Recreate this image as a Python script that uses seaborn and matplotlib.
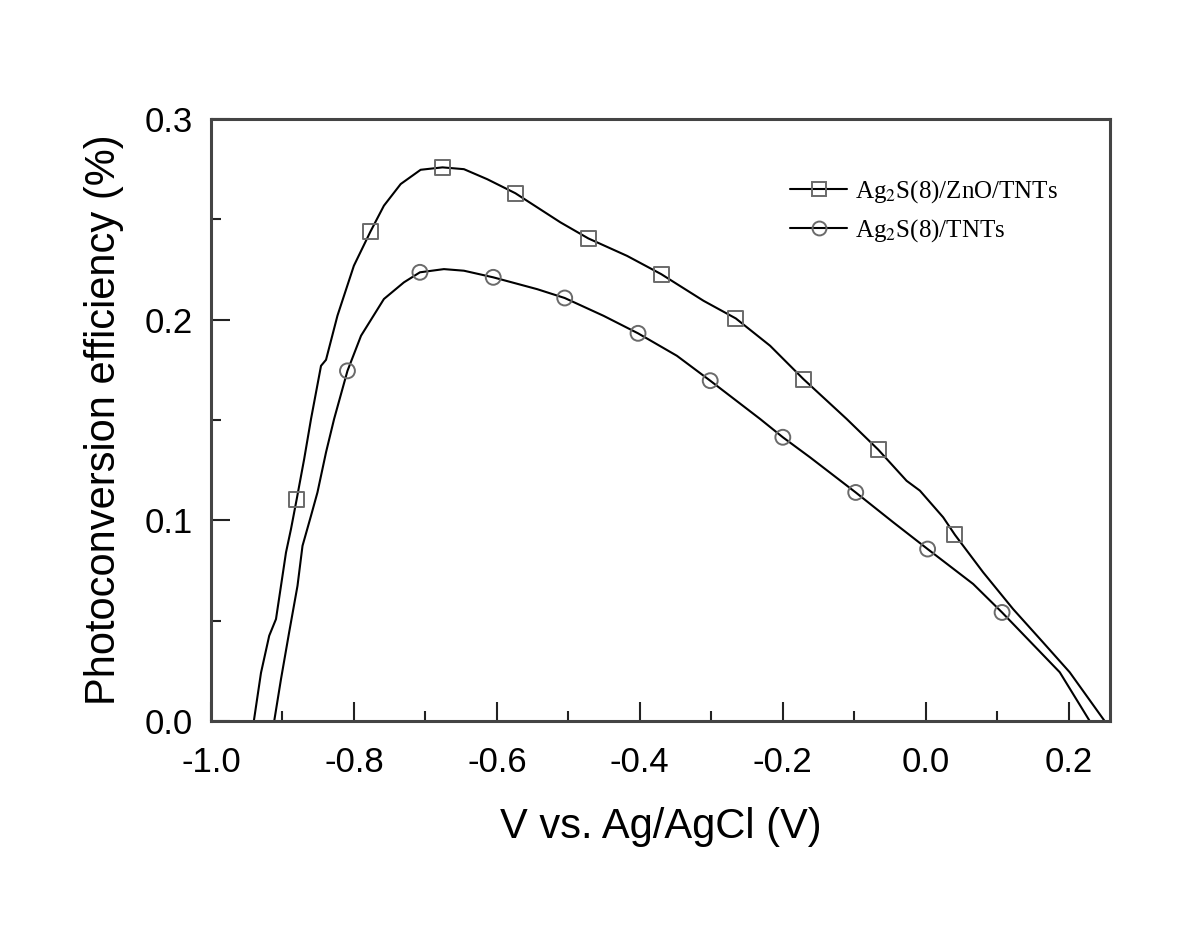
import numpy as np
import pandas as pd
import matplotlib
matplotlib.use("Agg")
import matplotlib.pyplot as plt
import seaborn as sns
from matplotlib.lines import Line2D
from matplotlib.ticker import MultipleLocator

# curve: Ag2S(8)/ZnO/TNTs
zno_v = [-0.940, -0.930, -0.9185, -0.909, -0.902, -0.895, -0.888, -0.880, -0.8696, -0.860,
         -0.846, -0.839, -0.823, -0.800, -0.777, -0.758, -0.7345, -0.7066, -0.676, -0.646,
         -0.6134, -0.574, -0.511, -0.472, -0.4178, -0.370, -0.3107, -0.2655, -0.2176, -0.171,
         -0.1104, -0.0662, -0.0266, -0.008, 0.0246, 0.041, 0.0805, 0.1224, 0.1643, 0.2016, 0.2505]
zno_eff = [0.000, 0.024, 0.0425, 0.0508, 0.0674, 0.084, 0.0957, 0.1106, 0.1305, 0.1505,
           0.177, 0.180, 0.202, 0.2269, 0.2438, 0.2568, 0.2676, 0.2747, 0.2759, 0.2750,
           0.270, 0.263, 0.2485, 0.2405, 0.2318, 0.2227, 0.2094, 0.2006, 0.187, 0.1704,
           0.1505, 0.1352, 0.1197, 0.1148, 0.1015, 0.0928, 0.0741, 0.0558, 0.0392, 0.0243, 0.000]

# curve: Ag2S(8)/TNTs
tnt_v = [-0.9115, -0.902, -0.8906, -0.8789, -0.8719, -0.860, -0.851, -0.839, -0.8277, -0.809,
         -0.790, -0.758, -0.730, -0.7076, -0.674, -0.646, -0.605, -0.5435, -0.505, -0.4505,
         -0.4024, -0.348, -0.3014, -0.2315, -0.1998, -0.1617, -0.0978, -0.0452, 0.0028, 0.0665,
         0.107, 0.1877, 0.2296]
tnt_eff = [0.000, 0.0209, 0.0442, 0.0674, 0.0873, 0.1023, 0.1139, 0.1339, 0.1505, 0.1745,
           0.192, 0.2103, 0.2186, 0.2236, 0.2252, 0.2244, 0.2211, 0.2152, 0.2108, 0.2019,
           0.1932, 0.182, 0.1696, 0.1505, 0.1414, 0.1314, 0.1139, 0.099, 0.0857, 0.0683,
           0.0541, 0.0243, 0.000]

# marker positions
zno_mark_v = [-0.880, -0.777, -0.676, -0.574, -0.472, -0.370, -0.2655, -0.171, -0.0662, 0.041]
zno_mark_eff = [0.1106, 0.2438, 0.2759, 0.263, 0.2405, 0.2227, 0.2006, 0.1704, 0.1352, 0.0928]
tnt_mark_v = [-0.809, -0.7076, -0.605, -0.505, -0.4024, -0.3014, -0.1998, -0.0978, 0.0028, 0.107]
tnt_mark_eff = [0.1745, 0.2236, 0.2211, 0.2108, 0.1932, 0.1696, 0.1414, 0.1139, 0.0857, 0.0541]

labels = [r"Ag$_2$S(8)/ZnO/TNTs", r"Ag$_2$S(8)/TNTs"]

sns.set_style("white")
plt.rcParams["font.family"] = ["Liberation Sans", "DejaVu Sans"]
plt.rcParams["mathtext.fontset"] = "stix"
plt.rcParams["text.color"] = "black"
plt.rcParams["axes.labelcolor"] = "black"

fig = plt.figure(figsize=(12, 9.43), dpi=100)
ax = fig.add_axes([0.1758, 0.2354, 0.925 - 0.1758, 0.8738 - 0.2354])

line_kw = dict(color="black", linewidth=1.5, sort=False, estimator=None, legend=False)
sns.lineplot(x=zno_v, y=zno_eff, ax=ax, **line_kw)
sns.lineplot(x=tnt_v, y=tnt_eff, ax=ax, **line_kw)

mark_kw = dict(s=115, facecolor="none", edgecolor="#6a6a6a", linewidth=1.4, legend=False, zorder=3)
sns.scatterplot(x=zno_mark_v, y=zno_mark_eff, marker="s", ax=ax, **mark_kw)
sns.scatterplot(x=tnt_mark_v, y=tnt_mark_eff, marker="o", ax=ax, **mark_kw)

ax.set_xlim(-1.0, 0.258)
ax.set_ylim(0, 0.3)
ax.xaxis.set_major_locator(MultipleLocator(0.2))
ax.xaxis.set_minor_locator(MultipleLocator(0.1))
ax.yaxis.set_major_locator(MultipleLocator(0.1))
ax.yaxis.set_minor_locator(MultipleLocator(0.05))
ax.tick_params(which="both", direction="in", color="#222222", width=1.5,
               bottom=True, left=True, top=False, right=False)
ax.tick_params(which="major", length=14, labelsize=25, pad=13, labelcolor="black")
ax.tick_params(axis="x", which="major", pad=18)
ax.tick_params(which="minor", length=7)
ax.xaxis.set_major_formatter(matplotlib.ticker.FuncFormatter(lambda v, p: f"{v:.1f}"))
ax.yaxis.set_major_formatter(matplotlib.ticker.FuncFormatter(lambda v, p: f"{v:.1f}"))

for sp in ax.spines.values():
    sp.set_color("#444444")
    sp.set_linewidth(2.2)

ax.set_xlabel("V vs. Ag/AgCl (V)", fontsize=30, labelpad=20)
ax.set_ylabel("Photoconversion efficiency (%)", fontsize=30, labelpad=15)

handles = [
    Line2D([], [], color="black", lw=1.5, marker="s", markersize=10,
           markerfacecolor="none", markeredgecolor="#6a6a6a", markeredgewidth=1.4),
    Line2D([], [], color="black", lw=1.5, marker="o", markersize=10,
           markerfacecolor="none", markeredgecolor="#6a6a6a", markeredgewidth=1.4),
]
ax.legend(handles, labels, loc="upper left", bbox_to_anchor=(0.644, 0.902), frameon=False,
          prop={"family": "Liberation Serif", "size": 18}, handlelength=2.3,
          handletextpad=0.3, labelspacing=0.5, borderpad=0, borderaxespad=0)

fig.savefig("out.png", dpi=100, facecolor="white")
